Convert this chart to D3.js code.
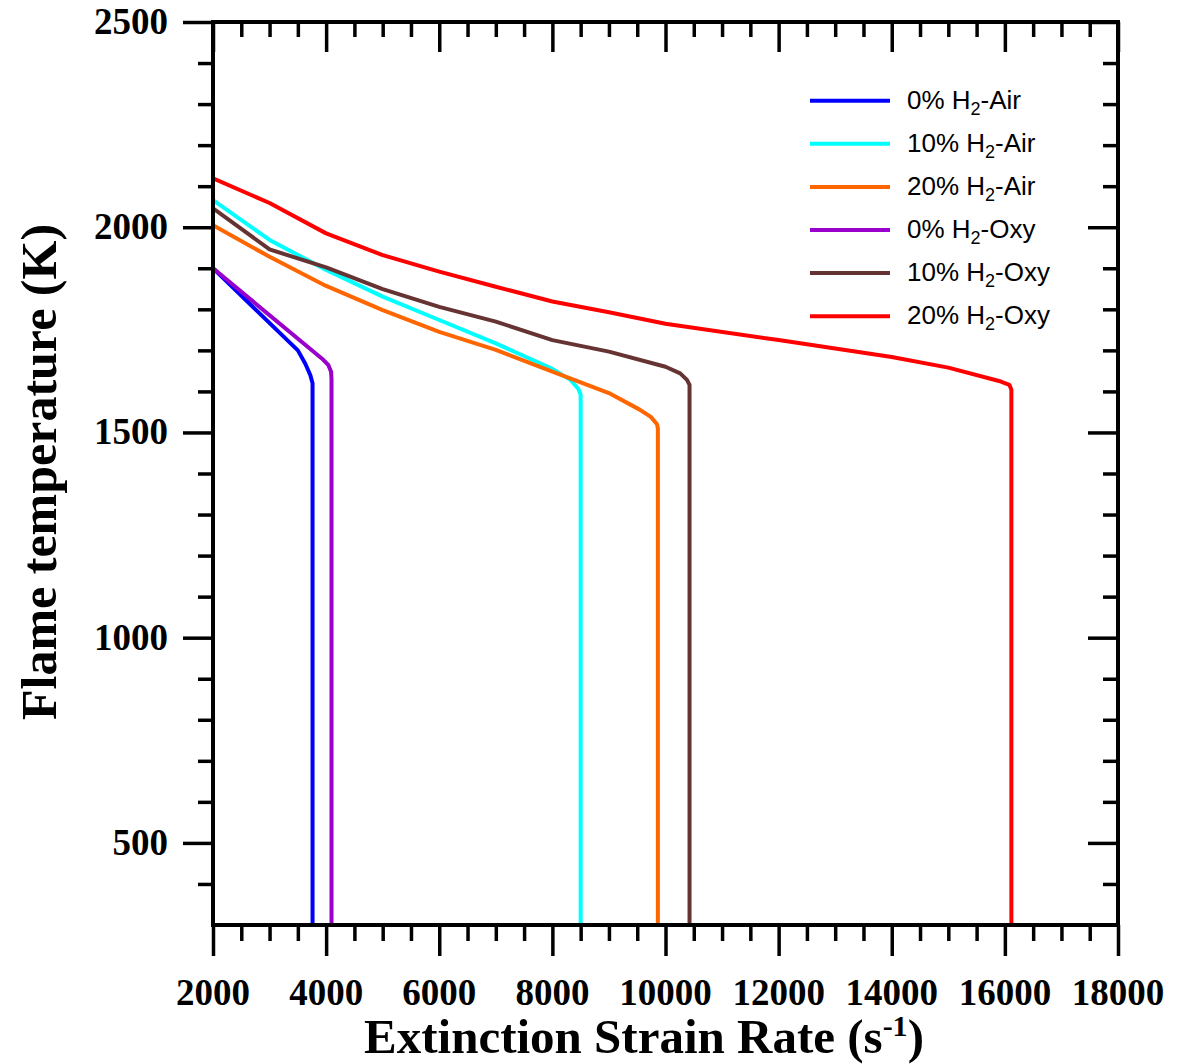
<!DOCTYPE html>
<html>
<head>
<meta charset="utf-8">
<script src="https://cdn.jsdelivr.net/npm/d3@7"></script>
<style>
  html, body { margin: 0; padding: 0; background: #fff; }
  svg { display: block; }
</style>
</head>
<body>
<svg id="chart" width="1191" height="1064"></svg>
<script>
// Series names (label text, H2 subscripted when drawn)
const seriesNames = ["0% H2-Air", "10% H2-Air", "20% H2-Air", "0% H2-Oxy", "10% H2-Oxy", "20% H2-Oxy"];
const seriesColors = ["#0000ff", "#00ffff", "#ff6600", "#9900cc", "#663333", "#ff0000"];

// Strain rate (1/s) and flame temperature (K) for each mixture
const air0Strain = [2000, 3500, 3630, 3720, 3760, 3760];
const air0Temp   = [1900, 1700, 1668, 1640, 1620, 300];

const air10Strain = [2000, 3000, 4000, 5000, 6000, 7000, 8000, 8320, 8460, 8500, 8500];
const air10Temp   = [2066, 1969, 1896, 1831, 1774, 1717, 1655, 1628, 1606, 1592, 300];

const air20Strain = [2000, 3000, 4000, 5000, 6000, 7000, 8000, 9000, 9550, 9740, 9850, 9865, 9865];
const air20Temp   = [2005, 1928, 1857, 1798, 1745, 1701, 1648, 1596, 1555, 1538, 1520, 1510, 300];

const oxy0Strain = [2000, 3950, 4040, 4088, 4095, 4095];
const oxy0Temp   = [1900, 1677, 1664, 1648, 1630, 300];

const oxy10Strain = [2000, 3000, 4000, 5000, 6000, 7000, 8000, 9000, 10000, 10260, 10380, 10425, 10425];
const oxy10Temp   = [2046, 1946, 1902, 1849, 1806, 1770, 1725, 1697, 1660, 1644, 1628, 1616, 300];

const oxy20Strain = [2000, 3000, 4000, 5000, 6000, 7000, 8000, 9000, 10000, 12000, 14000, 15000, 15930, 16080, 16115, 16115];
const oxy20Temp   = [2119, 2059, 1985, 1932, 1892, 1855, 1819, 1793, 1765, 1725, 1684, 1658, 1624, 1616, 1604, 300];

const strainSets = [air0Strain, air10Strain, air20Strain, oxy0Strain, oxy10Strain, oxy20Strain];
const tempSets   = [air0Temp, air10Temp, air20Temp, oxy0Temp, oxy10Temp, oxy20Temp];

// Axis ticks
const xMajorTicks = [2000, 4000, 6000, 8000, 10000, 12000, 14000, 16000, 18000];
const yMajorTicks = [500, 1000, 1500, 2000, 2500];
const xMinorTicks = d3.range(2000, 18001, 500).filter(v => v % 2000 !== 0);
const yMinorTicks = d3.range(400, 2500, 100).filter(v => v % 500 !== 0);

const xTitle = "Extinction Strain Rate (s";
const xTitleSup = "-1";
const yTitle = "Flame temperature (K)";

const svg = d3.select("#chart");
const plot = { left: 213, right: 1118, top: 22, bottom: 925 };

const x = d3.scaleLinear().domain([2000, 18000]).range([plot.left, plot.right]);
const y = d3.scaleLinear().domain([300, 2500]).range([plot.bottom, plot.top]);

const serif = "'Liberation Serif', 'Times New Roman', serif";
const sans = "'Liberation Sans', Arial, sans-serif";

// Clip for the data lines
svg.append("defs").append("clipPath").attr("id", "plotClip")
  .append("rect")
  .attr("x", plot.left).attr("y", plot.top)
  .attr("width", plot.right - plot.left).attr("height", plot.bottom - plot.top);

// Data lines
const line = d3.line().x(d => x(d[0])).y(d => y(d[1]));
const linesG = svg.append("g").attr("clip-path", "url(#plotClip)");
seriesNames.forEach((name, i) => {
  const pts = strainSets[i].map((s, k) => [s, tempSets[i][k]]);
  linesG.append("path")
    .datum(pts)
    .attr("d", line)
    .attr("fill", "none")
    .attr("stroke", seriesColors[i])
    .attr("stroke-width", 4)
    .attr("stroke-linejoin", "round")
    .attr("stroke-linecap", "butt");
});

// Axes: bottom and left ticks point outward, top and right point inward
function styleAxis(g) {
  g.select(".domain").remove();
  g.selectAll(".tick line").attr("stroke", "#000").attr("stroke-width", 3.5);
  g.selectAll(".tick text").remove();
}
svg.append("g").attr("transform", `translate(0,${plot.bottom})`)
  .call(d3.axisBottom(x).tickValues(xMinorTicks).tickSize(16)).call(styleAxis);
svg.append("g").attr("transform", `translate(0,${plot.bottom})`)
  .call(d3.axisBottom(x).tickValues(xMajorTicks).tickSize(31)).call(styleAxis);
svg.append("g").attr("transform", `translate(0,${plot.top})`)
  .call(d3.axisBottom(x).tickValues(xMinorTicks).tickSize(15)).call(styleAxis);
svg.append("g").attr("transform", `translate(0,${plot.top})`)
  .call(d3.axisBottom(x).tickValues(xMajorTicks).tickSize(30)).call(styleAxis);
svg.append("g").attr("transform", `translate(${plot.left},0)`)
  .call(d3.axisLeft(y).tickValues(yMinorTicks).tickSize(15)).call(styleAxis);
svg.append("g").attr("transform", `translate(${plot.left},0)`)
  .call(d3.axisLeft(y).tickValues(yMajorTicks).tickSize(30)).call(styleAxis);
svg.append("g").attr("transform", `translate(${plot.right},0)`)
  .call(d3.axisLeft(y).tickValues(yMinorTicks).tickSize(15)).call(styleAxis);
svg.append("g").attr("transform", `translate(${plot.right},0)`)
  .call(d3.axisLeft(y).tickValues(yMajorTicks).tickSize(30)).call(styleAxis);

// Frame
svg.append("rect")
  .attr("x", plot.left).attr("y", plot.top)
  .attr("width", plot.right - plot.left).attr("height", plot.bottom - plot.top)
  .attr("fill", "none").attr("stroke", "#000").attr("stroke-width", 4);

// Tick labels
svg.append("g").selectAll("text").data(xMajorTicks).join("text")
  .attr("x", d => x(d)).attr("y", 1005)
  .attr("text-anchor", "middle")
  .attr("font-family", serif).attr("font-weight", "bold").attr("font-size", 37)
  .text(d => d);
svg.append("g").selectAll("text").data(yMajorTicks).join("text")
  .attr("x", 168).attr("y", d => y(d) + 12)
  .attr("text-anchor", "end")
  .attr("font-family", serif).attr("font-weight", "bold").attr("font-size", 37)
  .text(d => d);

// Axis titles
const xt = svg.append("text")
  .attr("x", 644).attr("y", 1053)
  .attr("text-anchor", "middle")
  .attr("font-family", serif).attr("font-weight", "bold").attr("font-size", 49);
xt.append("tspan").text(xTitle);
xt.append("tspan").attr("font-size", 30).attr("dy", -17).text(xTitleSup);
xt.append("tspan").attr("dy", 17).text(")");

svg.append("text")
  .attr("transform", `translate(56,472) rotate(-90)`)
  .attr("text-anchor", "middle")
  .attr("font-family", serif).attr("font-weight", "bold").attr("font-size", 50)
  .text(yTitle);

// Legend
const legend = svg.append("g");
seriesNames.forEach((name, i) => {
  const ly = 100.7 + i * 43.1;
  legend.append("line")
    .attr("x1", 810).attr("x2", 890).attr("y1", ly).attr("y2", ly)
    .attr("stroke", seriesColors[i]).attr("stroke-width", 4);
  const parts = name.split("H2");
  const t = legend.append("text")
    .attr("x", 907).attr("y", ly + 8)
    .attr("font-family", sans).attr("font-size", 26).attr("fill", "#000");
  t.append("tspan").text(parts[0] + "H");
  t.append("tspan").attr("font-size", 18).attr("dy", 6).text("2");
  t.append("tspan").attr("dy", -6).text(parts[1]);
});
</script>
</body>
</html>
